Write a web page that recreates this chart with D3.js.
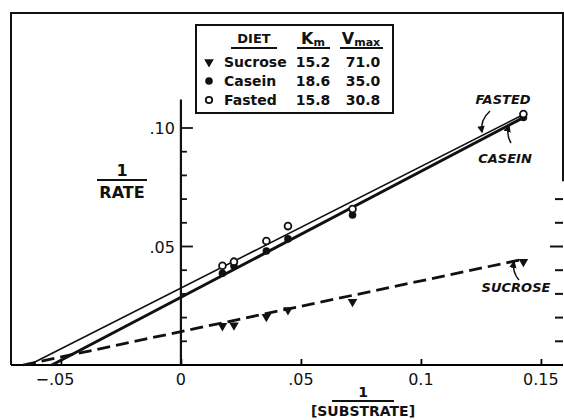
<!DOCTYPE html>
<html>
<head>
<meta charset="utf-8">
<script src="https://cdn.jsdelivr.net/npm/d3@7"></script>
<style>
  body { margin: 0; background: #fff; }
  svg text { font-family: "DejaVu Sans", sans-serif; fill: #111; }
</style>
</head>
<body>
<div id="chart"></div>
<script>
// Lineweaver-Burk data
const substrateInv = [0.0173, 0.0221, 0.0356, 0.0446, 0.0715, 0.1427];
const sucroseRate = [0.0165, 0.0168, 0.0204, 0.0232, 0.0267, 0.0436];
const caseinRate = [0.0387, 0.0418, 0.0481, 0.0532, 0.0633, 0.1044];
const fastedRate = [0.0419, 0.0436, 0.0523, 0.0586, 0.0658, 0.1059];

const diets = ["Sucrose", "Casein", "Fasted"];
const kmValues = [15.2, 18.6, 15.8];
const vmaxValues = [71.0, 35.0, 30.8];

const xTicks = [-0.05, 0, 0.05, 0.1, 0.15];
const xTickLabels = ["\u2212.05", "0", ".05", "0.1", "0.15"];
const yTicks = [0.05, 0.10];
const yTickLabels = [".05", ".10"];
const yMinorTicks = [0.01, 0.02, 0.03, 0.04, 0.06, 0.07, 0.08, 0.09];
const rightTicks = [0.01, 0.02, 0.03, 0.04, 0.05, 0.06, 0.07];

const svgWidth = 564, svgHeight = 420;

const svg = d3.select("#chart").append("svg")
    .attr("width", svgWidth)
    .attr("height", svgHeight);

// scales
const xScale = d3.scaleLinear().domain([-0.0708, 0.1592]).range([11, 563]);
const yScale = d3.scaleLinear().domain([0, 0.1]).range([365, 128]);

const x0 = xScale(0), yBase = yScale(0);
const frameTop = 13;

// arrow marker
svg.append("defs").append("marker")
    .attr("id", "head")
    .attr("viewBox", "0 0 10 10")
    .attr("refX", 8).attr("refY", 5)
    .attr("markerWidth", 5).attr("markerHeight", 5)
    .attr("orient", "auto")
    .append("path").attr("d", "M0,0 L10,5 L0,10 Z").attr("fill", "#111");

// frame: top, left, upper part of the right side
const frame = svg.append("g").attr("stroke", "#111").attr("stroke-width", 2).attr("fill", "none");
frame.append("path").attr("d", `M${xScale.range()[0]},${yBase} V${frameTop} H${xScale.range()[1]} V${yScale(0.0775)}`);

// right side stubs
frame.selectAll(".rt").data(rightTicks).enter().append("line")
    .attr("x1", d => xScale.range()[1] - (d === 0.05 ? 13 : 8))
    .attr("x2", xScale.range()[1])
    .attr("y1", d => yScale(d)).attr("y2", d => yScale(d));

// x axis (bottom)
const xAxis = svg.append("g").attr("transform", `translate(0,${yBase})`)
    .call(d3.axisTop(xScale).tickValues(xTicks).tickSize(6).tickFormat(""));
xAxis.select(".domain").attr("stroke-width", 2.2).attr("d", `M${xScale.range()[0]},0H${xScale.range()[1]}`);
xAxis.selectAll(".tick line").attr("stroke-width", 1.8);

svg.selectAll(".xlab").data(xTicks).enter().append("text")
    .attr("x", (d, i) => xScale(d) + (i === 0 ? -6 : 0))
    .attr("y", 385)
    .attr("text-anchor", "middle")
    .attr("font-size", 16)
    .text((d, i) => xTickLabels[i]);

// y axis at x = 0
const yTop = yScale(0.112);
svg.append("line").attr("x1", x0).attr("x2", x0).attr("y1", yTop).attr("y2", yBase)
    .attr("stroke", "#111").attr("stroke-width", 2.2);
svg.selectAll(".ymaj").data(yTicks).enter().append("line")
    .attr("x1", x0).attr("x2", x0 + 12)
    .attr("y1", d => yScale(d)).attr("y2", d => yScale(d))
    .attr("stroke", "#111").attr("stroke-width", 1.8);
svg.selectAll(".ymin").data(yMinorTicks).enter().append("line")
    .attr("x1", x0).attr("x2", x0 + 6)
    .attr("y1", d => yScale(d)).attr("y2", d => yScale(d))
    .attr("stroke", "#111").attr("stroke-width", 1.8);
svg.selectAll(".ylab").data(yTicks).enter().append("text")
    .attr("x", x0 - 6)
    .attr("y", d => yScale(d) + 6)
    .attr("text-anchor", "end")
    .attr("font-size", 16)
    .text((d, i) => yTickLabels[i]);

// axis titles as fractions
function fraction(cx, yNum, yLine, yDen, den, size, halfLen) {
    svg.append("text").attr("x", cx).attr("y", yNum).attr("text-anchor", "middle")
        .attr("font-size", size).attr("font-weight", "bold").text("1");
    svg.append("line").attr("x1", cx - halfLen).attr("x2", cx + halfLen)
        .attr("y1", yLine).attr("y2", yLine).attr("stroke", "#111").attr("stroke-width", 2);
    svg.append("text").attr("x", cx).attr("y", yDen).attr("text-anchor", "middle")
        .attr("font-size", size).attr("font-weight", "bold").text(den);
}
fraction(122, 176, 180, 198, "RATE", 16, 25);
fraction(363, 397, 401, 416, "[SUBSTRATE]", 14, 31);

// fitted lines: 1/v = 1/Vmax + (Km/Vmax)(1/S)
const lineGen = d3.line().x(d => xScale(d[0])).y(d => yScale(d[1]));
const lineStyles = [
    { width: 2.8, dash: "13,6" },
    { width: 3, dash: null },
    { width: 1.6, dash: null }
];
diets.forEach((name, i) => {
    const km = kmValues[i], vm = vmaxValues[i];
    const xStart = Math.max(xScale.domain()[0], -1 / km);
    const xEnd = substrateInv[substrateInv.length - 1];
    const pts = [xStart, xEnd].map(s => [s, Math.max(0, 1 / vm + (km / vm) * s)]);
    svg.append("path")
        .attr("d", lineGen(pts))
        .attr("fill", "none")
        .attr("stroke", "#111")
        .attr("stroke-width", lineStyles[i].width)
        .attr("stroke-dasharray", lineStyles[i].dash);
});

// markers
const triangle = d3.symbol().type(d3.symbolTriangle).size(40);
svg.selectAll(".suc").data(sucroseRate).enter().append("path")
    .attr("d", triangle)
    .attr("transform", (d, i) => `translate(${xScale(substrateInv[i])},${yScale(d)}) rotate(180)`)
    .attr("fill", "#111");
svg.selectAll(".cas").data(caseinRate).enter().append("circle")
    .attr("cx", (d, i) => xScale(substrateInv[i])).attr("cy", d => yScale(d))
    .attr("r", 3.8).attr("fill", "#111");
svg.selectAll(".fas").data(fastedRate).enter().append("circle")
    .attr("cx", (d, i) => xScale(substrateInv[i])).attr("cy", d => yScale(d))
    .attr("r", 3.4).attr("fill", "#fff").attr("stroke", "#111").attr("stroke-width", 1.8);

// line labels with curved arrows
const notes = [
    { text: "FASTED", x: 503, y: 104, path: "M490,111 Q480,120 482,132" },
    { text: "CASEIN", x: 505, y: 163, path: "M511,143 Q506,135 509,126" },
    { text: "SUCROSE", x: 516, y: 292, path: "M519,280 Q512,272 514,262" }
];
notes.forEach(n => {
    svg.append("text").attr("x", n.x).attr("y", n.y).attr("text-anchor", "middle")
        .attr("font-size", 13).attr("font-weight", "bold").attr("font-style", "italic")
        .text(n.text);
    svg.append("path").attr("d", n.path).attr("fill", "none")
        .attr("stroke", "#111").attr("stroke-width", 1.5).attr("marker-end", "url(#head)");
});

// legend table
const legend = svg.append("g");
legend.append("rect").attr("x", 196).attr("y", 25).attr("width", 197).attr("height", 88)
    .attr("fill", "#fff").attr("stroke", "#111").attr("stroke-width", 2);

const headX = [254, 313, 361];
legend.append("text").attr("x", headX[0]).attr("y", 43).attr("text-anchor", "middle")
    .attr("font-size", 13).attr("font-weight", "bold").text("DIET");
const km = legend.append("text").attr("x", headX[1]).attr("y", 44).attr("text-anchor", "middle")
    .attr("font-size", 16).attr("font-weight", "bold");
km.append("tspan").text("K");
km.append("tspan").attr("font-size", 11).attr("dy", 2).text("m");
const vm = legend.append("text").attr("x", headX[2]).attr("y", 44).attr("text-anchor", "middle")
    .attr("font-size", 16).attr("font-weight", "bold");
vm.append("tspan").text("V");
vm.append("tspan").attr("font-size", 11).attr("dy", 2).text("max");
[[231, 277], [297, 330], [340, 383]].forEach(u => {
    legend.append("line").attr("x1", u[0]).attr("x2", u[1]).attr("y1", 48).attr("y2", 48)
        .attr("stroke", "#111").attr("stroke-width", 1.8);
});

const rowY = [62, 81, 100];
diets.forEach((name, i) => {
    const y = rowY[i];
    if (i === 0) {
        legend.append("path").attr("d", triangle).attr("transform", `translate(209,${y}) rotate(180)`).attr("fill", "#111");
    } else if (i === 1) {
        legend.append("circle").attr("cx", 209).attr("cy", y).attr("r", 3.8).attr("fill", "#111");
    } else {
        legend.append("circle").attr("cx", 209).attr("cy", y).attr("r", 3.2)
            .attr("fill", "#fff").attr("stroke", "#111").attr("stroke-width", 1.8);
    }
    legend.append("text").attr("x", 224).attr("y", y + 5).attr("font-size", 14).attr("font-weight", "bold").text(name);
    legend.append("text").attr("x", headX[1]).attr("y", y + 5).attr("text-anchor", "middle")
        .attr("font-size", 14).attr("font-weight", "bold").text(kmValues[i].toFixed(1));
    legend.append("text").attr("x", headX[2] + 2).attr("y", y + 5).attr("text-anchor", "middle")
        .attr("font-size", 14).attr("font-weight", "bold").text(vmaxValues[i].toFixed(1));
});
</script>
</body>
</html>
